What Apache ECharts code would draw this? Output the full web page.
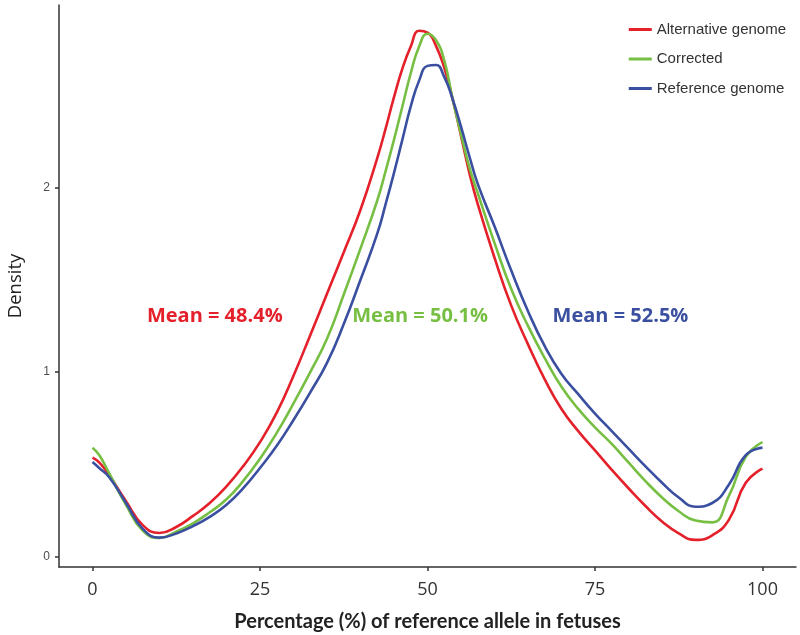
<!DOCTYPE html>
<html><head><meta charset="utf-8">
<script src="https://cdn.jsdelivr.net/npm/echarts@6/dist/echarts.min.js"></script>
<style>html,body{margin:0;padding:0;background:#fff}#c{width:800px;height:635px}</style>
</head><body><div id="c"></div>
<script>
const xs =        [0,    1,    2.5,  5,    7.5,  10,   12.5, 15,   17.5, 20,   22.5, 25,   27.5, 30,   32.5, 35,   37.5, 40,   42.5, 43.75,45,   46.25,47.5, 48.75,50,   51.25,52.5, 53.75,55,   56.25,57.5, 60,   62.5, 65,   67.5, 70,   72.5, 75,   77.5, 80,   82.5, 85,   87.5, 90,   92.5, 95,   97.5, 100];
const altGenome = [0.536,0.51, 0.44, 0.30, 0.17, 0.127,0.16, 0.22, 0.29, 0.38, 0.49, 0.62, 0.78, 0.98, 1.20, 1.425,1.65, 1.88, 2.16, 2.32, 2.49, 2.645,2.765,2.85, 2.84, 2.77, 2.65, 2.48, 2.28, 2.08, 1.91, 1.62, 1.36, 1.15, 0.96, 0.80, 0.68, 0.575,0.47, 0.37, 0.275,0.19, 0.125,0.09, 0.115,0.20, 0.40, 0.476];
const corrected = [0.59, 0.55, 0.45, 0.28, 0.14, 0.10, 0.135,0.18, 0.24, 0.31, 0.41, 0.53, 0.67, 0.83, 1.00, 1.18, 1.42, 1.67, 1.93, 2.09, 2.26, 2.44, 2.62, 2.765,2.834,2.80, 2.69, 2.48, 2.29, 2.11, 1.97, 1.70, 1.45, 1.25, 1.075,0.92, 0.80, 0.70, 0.61, 0.51, 0.41, 0.32, 0.245,0.195,0.185,0.33, 0.54, 0.62];
const refGenome = [0.512,0.48, 0.43, 0.29, 0.15, 0.102,0.125,0.165,0.215,0.28, 0.37, 0.48, 0.60, 0.74, 0.89, 1.05, 1.26, 1.50, 1.75, 1.91, 2.08, 2.26, 2.44, 2.58, 2.66, 2.665,2.60, 2.48, 2.33, 2.17, 2.02, 1.79, 1.55, 1.33, 1.14, 0.99, 0.88, 0.775,0.68, 0.585,0.49, 0.40, 0.32, 0.27, 0.29, 0.39, 0.55, 0.59];
const seriesNames = ['Alternative genome', 'Corrected', 'Reference genome'];
const meanLabels = ['Mean = 48.4%', 'Mean = 50.1%', 'Mean = 52.5%'];
const meanLabelPos = [[18.25, 1.3], [48.9, 1.3], [78.8, 1.3]];
const xTicks = [0, 25, 50, 75, 100];
const yTicks = [0, 1, 2];
const colors = ['#e4202a', '#77bf43', '#3a4fa0'];

const allY = [altGenome, corrected, refGenome];
const chart = echarts.init(document.getElementById('c'), null, {renderer: 'canvas'});
chart.setOption({
  animation: false,
  backgroundColor: '#fff',
  grid: {left: 59, right: 4, top: 5, bottom: 68, containLabel: false, outerBoundsMode: 'none'},
  legend: {
    orient: 'vertical', right: 9, top: 17, itemGap: 14.5,
    itemWidth: 23, itemHeight: 3, icon: 'rect',
    textStyle: {fontFamily: 'Liberation Sans', fontSize: 15, color: '#333'},
    data: seriesNames
  },
  xAxis: {
    type: 'value', min: -5, max: 105,
    name: 'Percentage (%) of reference allele in fetuses',
    nameLocation: 'middle', nameGap: 45,
    nameTextStyle: {fontFamily: 'Lato', fontWeight: 'bold', fontSize: 20, color: '#222'},
    axisLine: {show: true, onZero: false, lineStyle: {color: '#333', width: 1.5}},
    axisTick: {show: true, length: 4, customValues: xTicks, lineStyle: {color: '#333', width: 1.5}},
    axisLabel: {customValues: xTicks, fontFamily: 'Open Sans', fontSize: 18, color: '#333', margin: 14},
    splitLine: {show: false}
  },
  yAxis: {
    type: 'value', min: -0.057, max: 2.99,
    name: 'Density', nameLocation: 'middle', nameGap: 34, nameRotate: 90,
    nameTextStyle: {fontFamily: 'Open Sans', fontSize: 18.5, color: '#222'},
    axisLine: {show: true, onZero: false, lineStyle: {color: '#333', width: 1.5}},
    axisTick: {show: true, length: 4, customValues: yTicks, lineStyle: {color: '#333', width: 1.5}},
    axisLabel: {customValues: yTicks, fontFamily: 'Liberation Sans', fontSize: 12, color: '#4d4d4d', margin: 9},
    splitLine: {show: false}
  },
  series: seriesNames.map((n, i) => ({
    name: n, type: 'line', smooth: 0.5, showSymbol: false, symbol: 'none',
    color: colors[i],
    lineStyle: {width: 2.6, color: colors[i]},
    data: xs.map((x, k) => [x, allY[i][k]]),
    markPoint: {
      symbol: 'circle', symbolSize: 0, silent: true,
      label: {show: true, position: 'inside', formatter: meanLabels[i],
        fontFamily: 'Open Sans', fontWeight: 'bold', fontSize: 20, color: colors[i]},
      data: [{coord: meanLabelPos[i]}]
    }
  }))
});
</script></body></html>
